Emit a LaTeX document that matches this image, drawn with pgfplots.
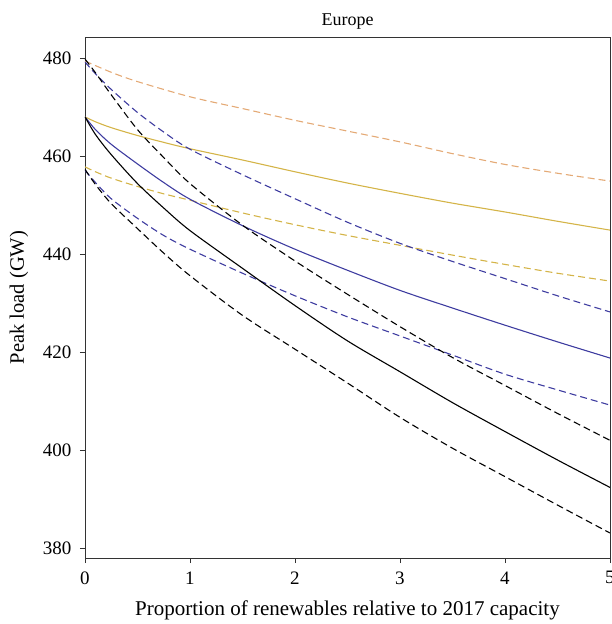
\documentclass[border=0pt]{standalone}
\usepackage{pgfplots}
\pgfplotsset{compat=1.18}
\usepackage{fontspec}
\setmainfont{Liberation Serif}
\definecolor{cOrange}{RGB}{228,170,118}
\definecolor{cGold}{RGB}{212,180,72}
\definecolor{cBlue}{RGB}{62,60,160}
\begin{document}
\begin{tikzpicture}
\begin{axis}[
  scale only axis, width=525bp, height=521bp,
  xmin=0, xmax=5, ymin=378, ymax=484.3,
  xtick={0,1,2,3,4,5}, ytick={380,400,...,480},
  tick pos=left, tick align=outside,
  major tick length=5bp,
  axis line style={black!80, line width=0.9pt},
  tick style={black!80, line width=0.8pt},
  font=\fontsize{19bp}{22bp}\selectfont,
  /pgf/number format/assume math mode=true,
  xticklabel style={yshift=-5bp},
  yticklabel style={xshift=-5bp},
  title={Europe}, title style={yshift=-2bp, font=\fontsize{18bp}{21bp}\selectfont},
  xlabel={Proportion of renewables relative to 2017 capacity},
  ylabel={Peak load (GW)},
  xlabel style={font=\fontsize{21bp}{24bp}\selectfont, yshift=-10bp},
  ylabel style={font=\fontsize{20.5bp}{24bp}\selectfont, yshift=8bp},
  every axis plot/.append style={line width=1.1pt, smooth},
  clip=true,
]
% orange dashed
\addplot[cOrange, dash pattern=on 7bp off 4bp] coordinates {
(0,479.4) (0.25,477.1) (0.5,475.2) (1,472.1) (1.5,469.7) (2,467.3) (2.5,465.1) (3,462.9) (3.5,460.5) (4,458.3) (4.5,456.5) (5,454.9)};
% gold solid
\addplot[cGold] coordinates {
(0,468) (0.1,467) (0.25,465.8) (0.5,464.2) (0.75,462.8) (1,461.5) (1.5,459.2) (2,456.8) (2.5,454.5) (3,452.4) (3.5,450.4) (4,448.6) (4.5,446.7) (5,444.9)};
% gold dashed
\addplot[cGold, dash pattern=on 7bp off 4bp] coordinates {
(0,457.8) (0.1,456.8) (0.25,455.5) (0.5,453.8) (0.75,452.3) (1,451) (1.5,448.4) (2,446) (2.5,443.8) (3,441.8) (3.5,439.8) (4,437.9) (4.5,436.1) (5,434.5)};
% blue dashed upper
\addplot[cBlue, dash pattern=on 7bp off 4bp] coordinates {
(0,479.2) (0.1,476.8) (0.25,473.6) (0.5,468.9) (0.75,464.9) (1,461.4) (1.5,456.2) (2,451.3) (2.5,446.5) (3,442.2) (3.5,438.5) (4,435.0) (4.5,431.5) (5,428.2)};
% blue solid
\addplot[cBlue] coordinates {
(0,468) (0.1,465.4) (0.25,462.4) (0.5,458.4) (0.75,454.6) (1,451.2) (1.5,445.8) (2,441) (2.5,436.7) (3,432.6) (3.5,429) (4,425.5) (4.5,422.1) (5,418.8)};
% blue dashed lower
\addplot[cBlue, dash pattern=on 7bp off 4bp] coordinates {
(0,457.1) (0.1,454.6) (0.25,451.3) (0.5,447.3) (0.75,443.8) (1,441) (1.5,436.1) (2,431.5) (2.5,427.2) (3,423.3) (3.5,419.4) (4,415.5) (4.5,412.3) (5,409.2)};
% black dashed upper
\addplot[black, dash pattern=on 7bp off 4bp] coordinates {
(0,479.8) (0.1,477) (0.25,472.5) (0.5,465.4) (0.75,459.7) (1,454.4) (1.5,445.9) (2,438.6) (2.5,431.8) (3,425.2) (3.5,418.9) (4,413.2) (4.5,407.5) (5,402)};
% black solid
\addplot[black] coordinates {
(0,468) (0.1,464.4) (0.25,460.3) (0.5,454.4) (0.75,449.4) (1,444.8) (1.5,437.1) (2,429.5) (2.5,422.3) (3,416) (3.5,409.7) (4,403.8) (4.5,398) (5,392.4)};
% black dashed lower
\addplot[black, dash pattern=on 7bp off 4bp] coordinates {
(0,457.3) (0.1,454.2) (0.25,450.3) (0.5,445.2) (0.75,440.2) (1,435.6) (1.5,427.5) (2,420.6) (2.5,413.7) (3,406.7) (3.5,400.4) (4,394.6) (4.5,388.8) (5,383.1)};
\end{axis}
\pgfresetboundingbox
\path[use as bounding box] (-85bp,-66bp) rectangle (527bp,558bp);
\end{tikzpicture}
\end{document}
